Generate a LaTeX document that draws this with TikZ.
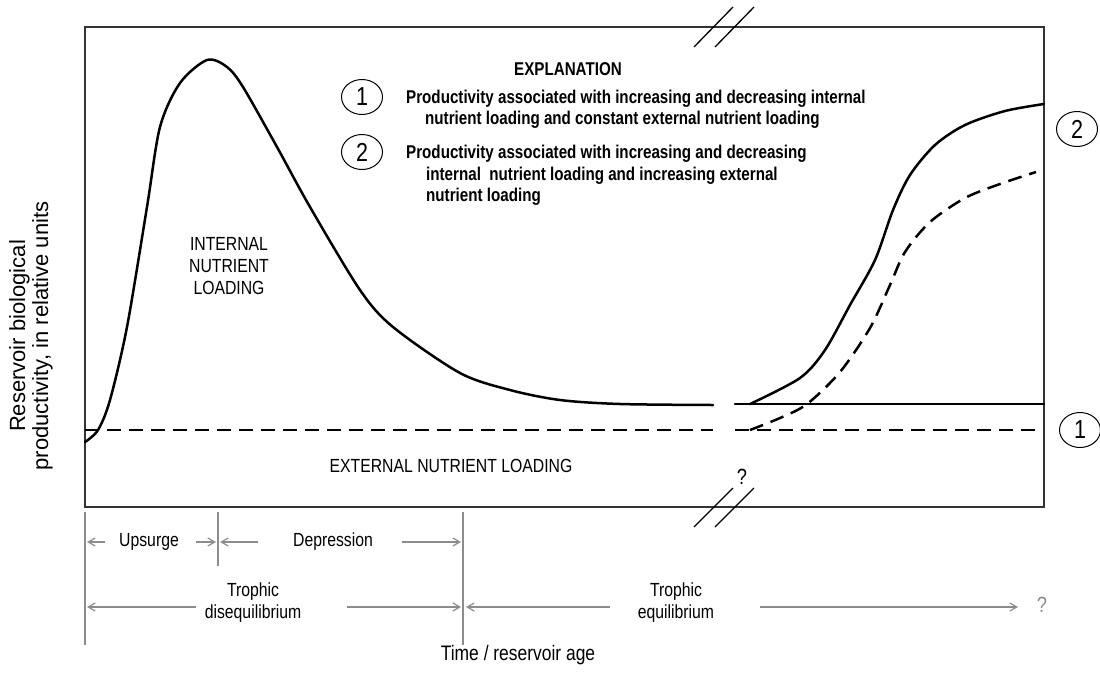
\documentclass[tikz,border=0pt]{standalone}
\usepackage{fontspec}
\setmainfont{Liberation Sans}
\newfontfamily\cond[FakeStretch=0.83]{Liberation Sans}
\newfontfamily\condb[FakeStretch=0.82]{Liberation Sans Bold}
\usetikzlibrary{arrows.meta,shapes.geometric}
\tikzset{
  curve/.style={line width=2.5pt, line join=round, line cap=round},
  dcurve/.style={line width=2.5pt, line join=round, dash pattern=on 14pt off 8pt},
  frame/.style={line width=1.3pt, draw=black!80},
  brk/.style={line width=1.3pt},
  tickline/.style={draw=black!45, line width=1.2pt},
  dim/.style={draw=black!45, line width=1.2pt, -{Straight Barb[length=7pt,width=8pt]}},
  lbl/.style={font=\cond\fontsize{19}{22}\selectfont, inner sep=0pt, align=center},
  leg/.style={font=\condb\fontsize{18.5}{20}\selectfont, anchor=west, inner sep=0pt},
  num/.style={ellipse, draw, line width=1pt, minimum width=41pt, minimum height=35pt, inner sep=0pt, font=\cond\fontsize{26}{26}\selectfont},
}
\begin{document}
\begin{tikzpicture}[x=1pt,y=-1pt]
\useasboundingbox (0,0) rectangle (1100,689);
% frame
\draw[frame] (85,27) rectangle (1044,507);
% break marks
\coordinate (bt1a) at (694,47); \coordinate (bt1b) at (733,7);
\coordinate (bt2a) at (715,47); \coordinate (bt2b) at (754,7);
\coordinate (bb1a) at (694,527); \coordinate (bb1b) at (733,488);
\coordinate (bb2a) at (715,527); \coordinate (bb2b) at (754,488);
\draw[brk] (bt1a) -- (bt1b);
\draw[brk] (bt2a) -- (bt2b);
\draw[brk] (bb1a) -- (bb1b);
\draw[brk] (bb2a) -- (bb2b);
\node[lbl, font=\cond\fontsize{22}{22}\selectfont] (qm) at (742,477) {?};
% external loading dashed line
\coordinate (e0) at (85,430); \coordinate (e1) at (713,430);
\coordinate (e2) at (735,430); \coordinate (e3) at (1036,430);
\draw[dcurve] (e0) -- (e1);
\draw[dcurve] (e2) -- (e3);
% curve 1 left part
\draw[curve] plot[smooth, tension=0.5] coordinates {
 (85,442) (98,430) (110,400) (127,327) (147,207) (160,127) (180,83) (207,60)
 (227,67) (243,87) (277,147) (310,207) (360,290) (393,327) (460,373) (510,390)
 (560,400) (620,404) (713,405)};
% curve 1 right part
\coordinate (c1a) at (735,404); \coordinate (c1b) at (1044,404);
\draw[curve] (c1a) -- (c1b);
% curve 2 solid
\draw[curve] plot[smooth, tension=0.5] coordinates {
 (750,404) (800,378) (825,350) (850,305) (875,260) (893,210) (910,175)
 (935,145) (965,125) (1005,111) (1044,104)};
% curve 2 dashed
\draw[dcurve] plot[smooth, tension=0.5] coordinates {
 (750,430) (780,418) (807,404) (840,372) (870,328) (890,285) (905,252)
 (930,222) (965,198) (1000,184) (1036,172)};
% labels inside
\node[lbl] (intl) at (229,266) {INTERNAL\\NUTRIENT\\LOADING};
\node[lbl] (extl) at (451,466) {EXTERNAL NUTRIENT LOADING};
% explanation
\node[font=\condb\fontsize{18.5}{20}\selectfont, inner sep=0pt] (expl) at (568,69) {EXPLANATION};
\node[num] (n1) at (362,97) {1};
\node[num] (n2) at (362,152) {2};
\node[leg] (t1a) at (406,99) {Productivity associated with increasing and decreasing internal};
\node[leg] (t1b) at (425,120) {nutrient loading and constant external nutrient loading};
\node[leg] (t2a) at (406,154) {Productivity associated with increasing and decreasing};
\node[leg] (t2b) at (426,176) {internal\ \ nutrient loading and increasing external};
\node[leg] (t2c) at (426,197) {nutrient loading};
% right-side numbers
\node[num] (r2) at (1077,129) {2};
\node[num] (r1) at (1080,430) {1};
% y-axis label
\node[rotate=90, align=center, font=\fontsize{22}{23}\selectfont, inner sep=0pt] (ylab) at (31,336)
 {Reservoir biological\\productivity, in relative units};
% tick lines below
\coordinate (k0t) at (85,512); \coordinate (k0b) at (85,645);
\coordinate (k1t) at (218,512); \coordinate (k1b) at (218,566);
\coordinate (k2t) at (463,512); \coordinate (k2b) at (463,645);
\draw[tickline] (k0t) -- (k0b);
\draw[tickline] (k1t) -- (k1b);
\draw[tickline] (k2t) -- (k2b);
% row 1
\node[lbl] (ups) at (149,542) {Upsurge};
\node[lbl] (dep) at (333,542) {Depression};
\coordinate (a1s) at (105,542); \coordinate (a1e) at (87,542);
\coordinate (a2s) at (196,542); \coordinate (a2e) at (216,542);
\coordinate (a3s) at (258,542); \coordinate (a3e) at (220,542);
\coordinate (a4s) at (402,542); \coordinate (a4e) at (461,542);
\draw[dim] (a1s) -- (a1e);
\draw[dim] (a2s) -- (a2e);
\draw[dim] (a3s) -- (a3e);
\draw[dim] (a4s) -- (a4e);
% row 2
\node[lbl] (dis) at (253,603) {Trophic\\disequilibrium};
\node[lbl] (equ) at (676,603) {Trophic\\equilibrium};
\node[lbl, text=black!45, font=\cond\fontsize{22}{22}\selectfont] (q2) at (1042,605) {?};
\coordinate (b1s) at (196,607); \coordinate (b1e) at (87,607);
\coordinate (b2s) at (347,607); \coordinate (b2e) at (461,607);
\coordinate (b3s) at (610,607); \coordinate (b3e) at (466,607);
\coordinate (b4s) at (760,607); \coordinate (b4e) at (1018,607);
\draw[dim] (b1s) -- (b1e);
\draw[dim] (b2s) -- (b2e);
\draw[dim] (b3s) -- (b3e);
\draw[dim] (b4s) -- (b4e);
% x-axis label
\node[lbl, font=\cond\fontsize{21}{22}\selectfont] (xlab) at (518,655) {Time / reservoir age};
\end{tikzpicture}
\end{document}
